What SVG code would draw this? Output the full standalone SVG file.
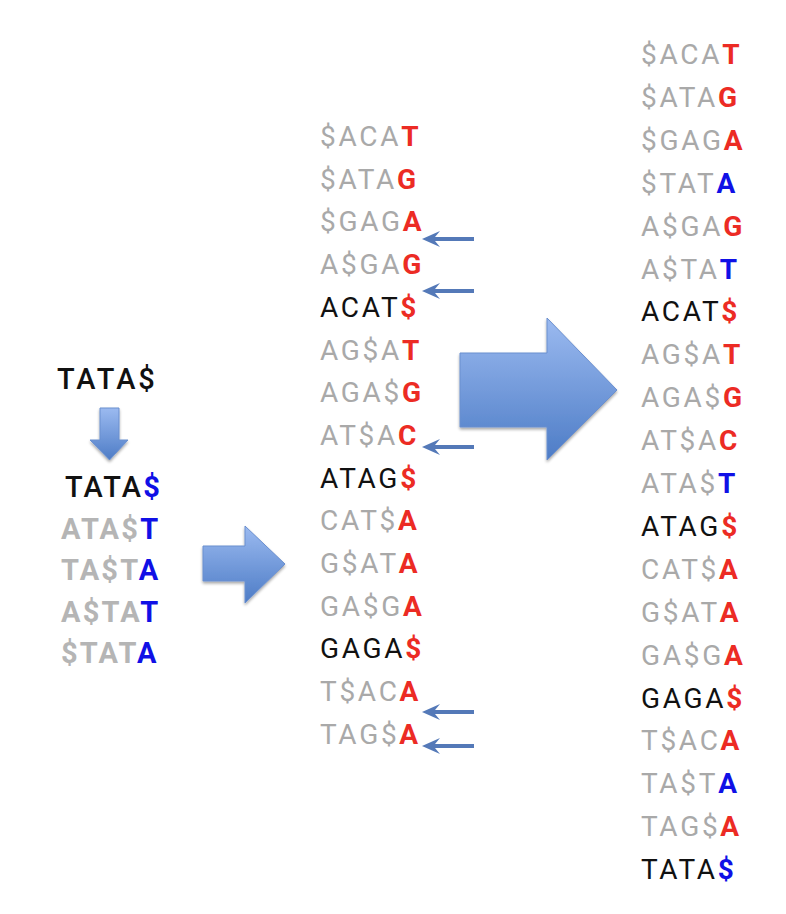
<svg xmlns="http://www.w3.org/2000/svg" width="786" height="914" viewBox="0 0 786 914">
<defs>
<style>
text{font-family:Roboto,"Liberation Sans",sans-serif;}
.m{font-size:28px;letter-spacing:2.7px;}
.l{font-size:29px;letter-spacing:2.2px;font-weight:700;}
.g{fill:#a9a9a9;}
.lg{fill:#b5b5b5;}
.k{fill:#111111;}
.r{fill:#ec2b24;font-weight:700;}
.b{fill:#1010e6;font-weight:700;}
.sa{fill:#5479b8;}
.big{fill:url(#ag);stroke:#6a8fcf;stroke-width:1;}
</style>
<linearGradient id="ag" x1="0" y1="0" x2="0" y2="1">
<stop offset="0" stop-color="#9bbaf0"/>
<stop offset="1" stop-color="#4d7cc6"/>
</linearGradient>
<filter id="sh" x="-20%" y="-20%" width="140%" height="140%">
<feGaussianBlur in="SourceAlpha" stdDeviation="1.5"/>
<feOffset dx="0" dy="1.5" result="o"/>
<feComponentTransfer><feFuncA type="linear" slope="0.35"/></feComponentTransfer>
<feMerge><feMergeNode/><feMergeNode in="SourceGraphic"/></feMerge>
</filter>
</defs>
<rect width="786" height="914" fill="#ffffff"/>

<g id="left-column">
<text class="l k" x="57" y="389" style="font-weight:500;letter-spacing:3px">TATA$</text>
<text class="l" x="65" y="497"><tspan class="k" style="font-weight:500">TATA</tspan><tspan class="b">$</tspan></text>
<text class="l" x="61" y="538.5"><tspan class="lg">ATA$</tspan><tspan class="b">T</tspan></text>
<text class="l" x="61" y="580"><tspan class="lg">TA$T</tspan><tspan class="b">A</tspan></text>
<text class="l" x="61" y="621.5"><tspan class="lg">A$TA</tspan><tspan class="b">T</tspan></text>
<text class="l" x="61" y="663"><tspan class="lg">$TAT</tspan><tspan class="b">A</tspan></text>
</g>

<g id="middle-column">
<text class="m" x="320" y="146"><tspan class="g">$ACA</tspan><tspan class="r">T</tspan></text>
<text class="m" x="320" y="188.7"><tspan class="g">$ATA</tspan><tspan class="r">G</tspan></text>
<text class="m" x="320" y="231.4"><tspan class="g">$GAG</tspan><tspan class="r">A</tspan></text>
<text class="m" x="320" y="274.1"><tspan class="g">A$GA</tspan><tspan class="r">G</tspan></text>
<text class="m" x="320" y="316.8"><tspan class="k">ACAT</tspan><tspan class="r">$</tspan></text>
<text class="m" x="320" y="359.5"><tspan class="g">AG$A</tspan><tspan class="r">T</tspan></text>
<text class="m" x="320" y="402.2"><tspan class="g">AGA$</tspan><tspan class="r">G</tspan></text>
<text class="m" x="320" y="444.9"><tspan class="g">AT$A</tspan><tspan class="r">C</tspan></text>
<text class="m" x="320" y="487.6"><tspan class="k">ATAG</tspan><tspan class="r">$</tspan></text>
<text class="m" x="320" y="530.3"><tspan class="g">CAT$</tspan><tspan class="r">A</tspan></text>
<text class="m" x="320" y="573"><tspan class="g">G$AT</tspan><tspan class="r">A</tspan></text>
<text class="m" x="320" y="615.7"><tspan class="g">GA$G</tspan><tspan class="r">A</tspan></text>
<text class="m" x="320" y="658.4"><tspan class="k">GAGA</tspan><tspan class="r">$</tspan></text>
<text class="m" x="320" y="701.1"><tspan class="g">T$AC</tspan><tspan class="r">A</tspan></text>
<text class="m" x="320" y="743.8"><tspan class="g">TAG$</tspan><tspan class="r">A</tspan></text>
</g>

<g id="right-column">
<text class="m" x="641" y="64"><tspan class="g">$ACA</tspan><tspan class="r">T</tspan></text>
<text class="m" x="641" y="106.9"><tspan class="g">$ATA</tspan><tspan class="r">G</tspan></text>
<text class="m" x="641" y="149.8"><tspan class="g">$GAG</tspan><tspan class="r">A</tspan></text>
<text class="m" x="641" y="192.7"><tspan class="g">$TAT</tspan><tspan class="b">A</tspan></text>
<text class="m" x="641" y="235.6"><tspan class="g">A$GA</tspan><tspan class="r">G</tspan></text>
<text class="m" x="641" y="278.5"><tspan class="g">A$TA</tspan><tspan class="b">T</tspan></text>
<text class="m" x="641" y="321.4"><tspan class="k">ACAT</tspan><tspan class="r">$</tspan></text>
<text class="m" x="641" y="364.3"><tspan class="g">AG$A</tspan><tspan class="r">T</tspan></text>
<text class="m" x="641" y="407.2"><tspan class="g">AGA$</tspan><tspan class="r">G</tspan></text>
<text class="m" x="641" y="450.1"><tspan class="g">AT$A</tspan><tspan class="r">C</tspan></text>
<text class="m" x="641" y="493"><tspan class="g">ATA$</tspan><tspan class="b">T</tspan></text>
<text class="m" x="641" y="535.9"><tspan class="k">ATAG</tspan><tspan class="r">$</tspan></text>
<text class="m" x="641" y="578.8"><tspan class="g">CAT$</tspan><tspan class="r">A</tspan></text>
<text class="m" x="641" y="621.7"><tspan class="g">G$AT</tspan><tspan class="r">A</tspan></text>
<text class="m" x="641" y="664.6"><tspan class="g">GA$G</tspan><tspan class="r">A</tspan></text>
<text class="m" x="641" y="707.5"><tspan class="k">GAGA</tspan><tspan class="r">$</tspan></text>
<text class="m" x="641" y="750.4"><tspan class="g">T$AC</tspan><tspan class="r">A</tspan></text>
<text class="m" x="641" y="793.3"><tspan class="g">TA$T</tspan><tspan class="b">A</tspan></text>
<text class="m" x="641" y="836.2"><tspan class="g">TAG$</tspan><tspan class="r">A</tspan></text>
<text class="m" x="641" y="879.1"><tspan class="k">TATA</tspan><tspan class="b">$</tspan></text>
</g>

<g id="connectors">
<path class="big" filter="url(#sh)" d="M100,408 H119 V440 H128 L109.5,460 L90,440 H100 Z"/>
<path class="big" filter="url(#sh)" d="M203,546 H245 V526 L285,564 L245,603 V581 H203 Z"/>
<path class="big" filter="url(#sh)" d="M460,353 H547 V318 L617,390 L547,460 V427 H460 Z"/>
<path class="sa" d="M422,239 L440,231 L435,237 H474 V241 H435 L440,247 Z"/>
<path class="sa" d="M422,291 L440,283 L435,289 H474 V293 H435 L440,299 Z"/>
<path class="sa" d="M422,447 L440,439 L435,445 H474 V449 H435 L440,455 Z"/>
<path class="sa" d="M422,712 L440,704 L435,710 H474 V714 H435 L440,720 Z"/>
<path class="sa" d="M422,746 L440,738 L435,744 H474 V748 H435 L440,754 Z"/>
</g>
</svg>
